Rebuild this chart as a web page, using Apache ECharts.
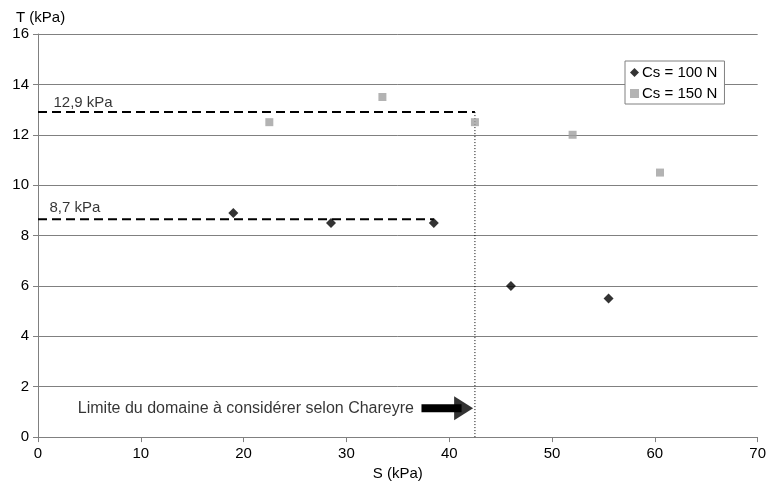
<!DOCTYPE html>
<html><head><meta charset="utf-8">
<script src="https://cdn.jsdelivr.net/npm/echarts@6/dist/echarts.min.js"></script>
<style>html,body{margin:0;padding:0;background:#fff}#c{width:769px;height:486px}</style>
</head><body><div id="c"></div>
<script>
const seriesNames = ['Cs = 100 N', 'Cs = 150 N'];
const s100 = [[19, 8.9], [28.5, 8.5], [38.5, 8.5], [46, 6], [55.5, 5.5]];
const s150 = [[22.5, 12.5], [33.5, 13.5], [42.5, 12.5], [52, 12], [60.5, 10.5]];
const line129 = [[0, 12.9], [42.5, 12.9]];
const line87 = [[0, 8.65], [38.5, 8.65]];
const limitLine = [[42.5, 0], [42.5, 12.9]];
const arrowBody = [[37.3, 1.15], [41.2, 1.15]];
const arrowHead = [41.4, 1.15];
const labels = ['12,9 kPa', '8,7 kPa', 'Limite du domaine à considérer selon Chareyre'];
const FONT = 'Liberation Sans';
const FS = 15;
const txt = {fontSize: FS, color: '#000', fontFamily: FONT};
function textPoint(coord, text, position, offset, size) {
  return {
    type: 'scatter', data: [coord], symbol: 'circle', symbolSize: 1, silent: true, z: 6,
    itemStyle: {color: 'rgba(0,0,0,0)'},
    label: Object.assign({show: true, formatter: text, position: position, offset: offset}, txt, {fontSize: size || FS})
  };
}
const chart = echarts.init(document.getElementById('c'));
chart.setOption({
  animation: false,
  textStyle: {fontFamily: FONT},
  grid: {left: 38, right: 9, top: 34, bottom: 48, containLabel: false},
  xAxis: {
    type: 'value', min: 0, max: 70, interval: 10,
    name: 'S (kPa)', nameLocation: 'middle', nameGap: 24,
    nameTextStyle: txt,
    axisLine: {show: true, lineStyle: {color: '#808080'}},
    axisTick: {show: true, length: 5, lineStyle: {color: '#808080'}},
    axisLabel: Object.assign({margin: 9}, txt),
    splitLine: {show: false}
  },
  yAxis: {
    type: 'value', min: 0, max: 16, interval: 2,
    name: 'T (kPa)', nameLocation: 'end', nameGap: 9,
    nameTextStyle: Object.assign({align: 'left', padding: [0, 0, 0, -22]}, txt),
    axisLine: {show: true, lineStyle: {color: '#808080'}},
    axisTick: {show: true, length: 5, lineStyle: {color: '#808080'}},
    axisLabel: Object.assign({margin: 9}, txt),
    splitLine: {show: true, lineStyle: {color: '#808080', width: 1}}
  },
  legend: {
    orient: 'vertical', left: 625, top: 61,
    data: [{name: seriesNames[0], icon: 'diamond'}, {name: seriesNames[1], icon: 'rect'}],
    backgroundColor: '#fff', borderColor: '#808080', borderWidth: 1,
    padding: [4, 7, 3, 5], itemGap: 6, itemWidth: 9, itemHeight: 9,
    textStyle: Object.assign({padding: [0, 0, 0, -2]}, txt)
  },
  series: [
    {type: 'line', data: line129, symbol: 'none', silent: true, z: 3,
     lineStyle: {color: '#000', width: 2, type: [9, 5]}},
    {type: 'line', data: line87, symbol: 'none', silent: true, z: 3,
     lineStyle: {color: '#000', width: 2, type: [9, 5]}},
    {type: 'line', data: limitLine, symbol: 'none', silent: true, z: 3,
     lineStyle: {color: '#000', width: 1, type: [1, 2]}},
    {type: 'line', data: arrowBody, symbol: 'none', silent: true, z: 3,
     lineStyle: {color: '#000', width: 8, cap: 'butt'}},
    {type: 'scatter', data: [arrowHead], symbol: 'triangle', symbolSize: [24, 19], symbolRotate: -90,
     silent: true, z: 3, itemStyle: {color: '#000'}},
    textPoint([0, 12.9], labels[0], 'right', [10, -9]),
    textPoint([0, 8.65], labels[1], 'right', [6, -11]),
    textPoint(arrowBody[0], labels[2], 'left', [-2, 0], 16),
    {name: seriesNames[0], type: 'scatter', data: s100, symbol: 'diamond', symbolSize: 10, z: 5,
     itemStyle: {color: '#000'}},
    {name: seriesNames[1], type: 'scatter', data: s150, symbol: 'rect', symbolSize: 8, z: 5,
     itemStyle: {color: '#a0a0a0'}}
  ]
});
</script></body></html>
